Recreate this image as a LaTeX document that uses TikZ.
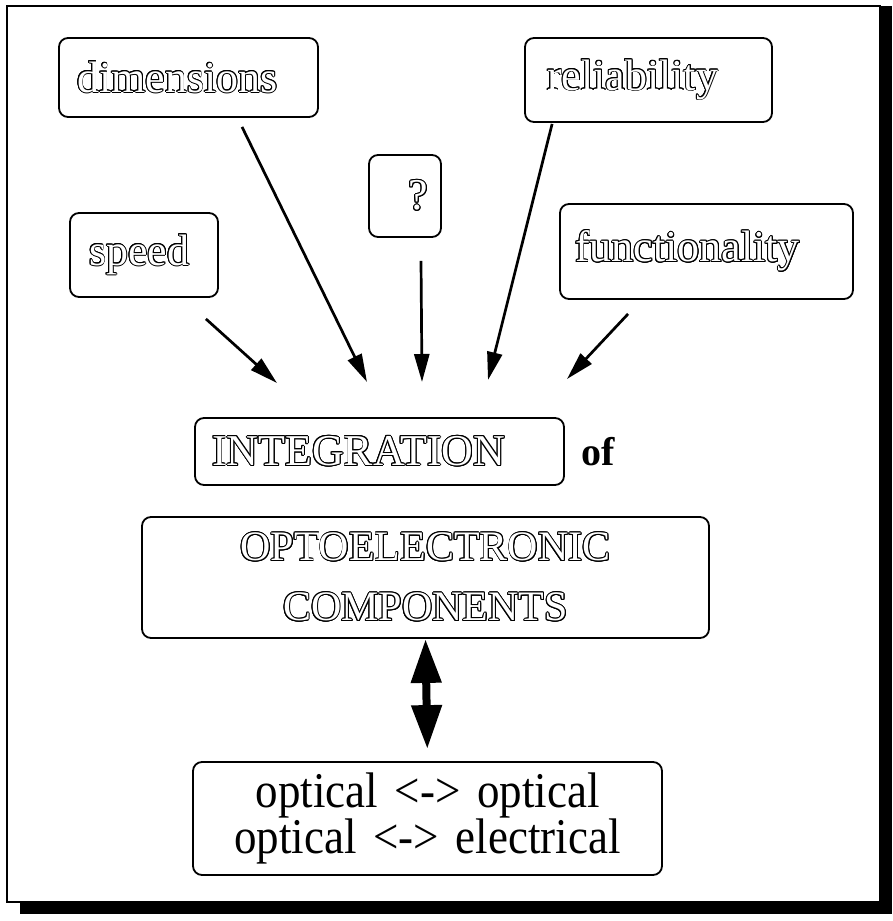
\documentclass[tikz,border=0pt]{standalone}
\usepackage{fontspec}
\setmainfont{Liberation Serif}
\newfontfamily\narrowfont[FakeStretch=0.9]{Liberation Serif}
\usepackage{contour}
\usetikzlibrary{positioning,arrows.meta}
\contourlength{0.9pt}
\newcommand{\hollow}[1]{\textcolor{white}{\contour{black}{#1}}}

\begin{document}
\begin{tikzpicture}[x=1pt,y=-1pt,
  box/.style={draw, line width=1.8pt, rounded corners=9pt, inner ysep=0pt,
    font=\fontsize{44}{44}\selectfont},
  feed/.style={line width=2.7pt, -{Triangle[length=28pt,width=15pt]}},
  both/.style={line width=8pt, {Triangle[length=44pt,width=29pt]}-{Triangle[length=44pt,width=29pt]}}]
  \useasboundingbox (0,0) rectangle (893,921);

  % Frame with shadow
  \draw[line width=2pt] (7,6) rectangle (880,902);
  \fill (880,6) rectangle (892,914);
  \fill (20,902) rectangle (892,914);

  % Factors
  \node[box, align=left, inner xsep=18pt, text width=223pt, minimum height=79pt] (dim) at (188.5,77.5) {\hollow{dimensions}};
  \node[box, align=left, inner xsep=19pt, text width=110pt, minimum height=84pt] (speed) at (144,255) {\hollow{speed}};
  \node[box, align=right, inner xsep=13pt, text width=46pt, minimum height=82pt] (q) at (405,196) {\hollow{?}};
  \node[box, align=left, inner xsep=22pt, text width=203pt, minimum height=84pt] (rel) at (648.5,80) {\hollow{reliability}};
  \node[box, align=left, inner xsep=15pt, text width=263pt, minimum height=95pt] (fun) at (706.5,251.5) {\hollow{functionality}};

  % Integration
  \node[box, align=left, inner xsep=17pt, text width=335pt, minimum height=67pt] (integ) at (379.5,451.5) {\hollow{INTEGRATION}};
  \node[right=16pt of integ, inner sep=0pt, font=\bfseries\fontsize{40}{40}\selectfont] (of) {of};
  \node[box, align=center, inner xsep=10pt, text width=547pt, minimum height=121pt,
    font=\fontsize{42}{60}\selectfont] (opto) at (425.5,577.5) {\hollow{OPTOELECTRONIC}\\\hollow{COMPONENTS}};

  % Conversion
  \node[box, align=center, inner xsep=10pt, text width=449pt, minimum height=113pt,
    font=\narrowfont\fontsize{50}{41}\selectfont] (conv) at (427.5,818.5) {optical <-> optical\\optical <-> electrical};

  % Arrow tips
  \coordinate (t1) at (277,383);
  \coordinate (t2) at (367,382);
  \coordinate (t3) at (422,382);
  \coordinate (t4) at (488,380);
  \coordinate (t5) at (567,379);

  \draw[feed] ([shift={(-13,21)}]speed.south east) -- (t1);
  \draw[feed] ([shift={(53.5,9)}]dim.south) -- (t2);
  \draw[feed] ([shift={(16,23)}]q.south) -- (t3);
  \draw[feed] ([shift={(28,1)}]rel.south west) -- (t4);
  \draw[feed] ([shift={(69,14)}]fun.south west) -- (t5);

  \draw[both, shorten >=12pt] (opto.south) -- (conv.north);
\end{tikzpicture}
\end{document}
